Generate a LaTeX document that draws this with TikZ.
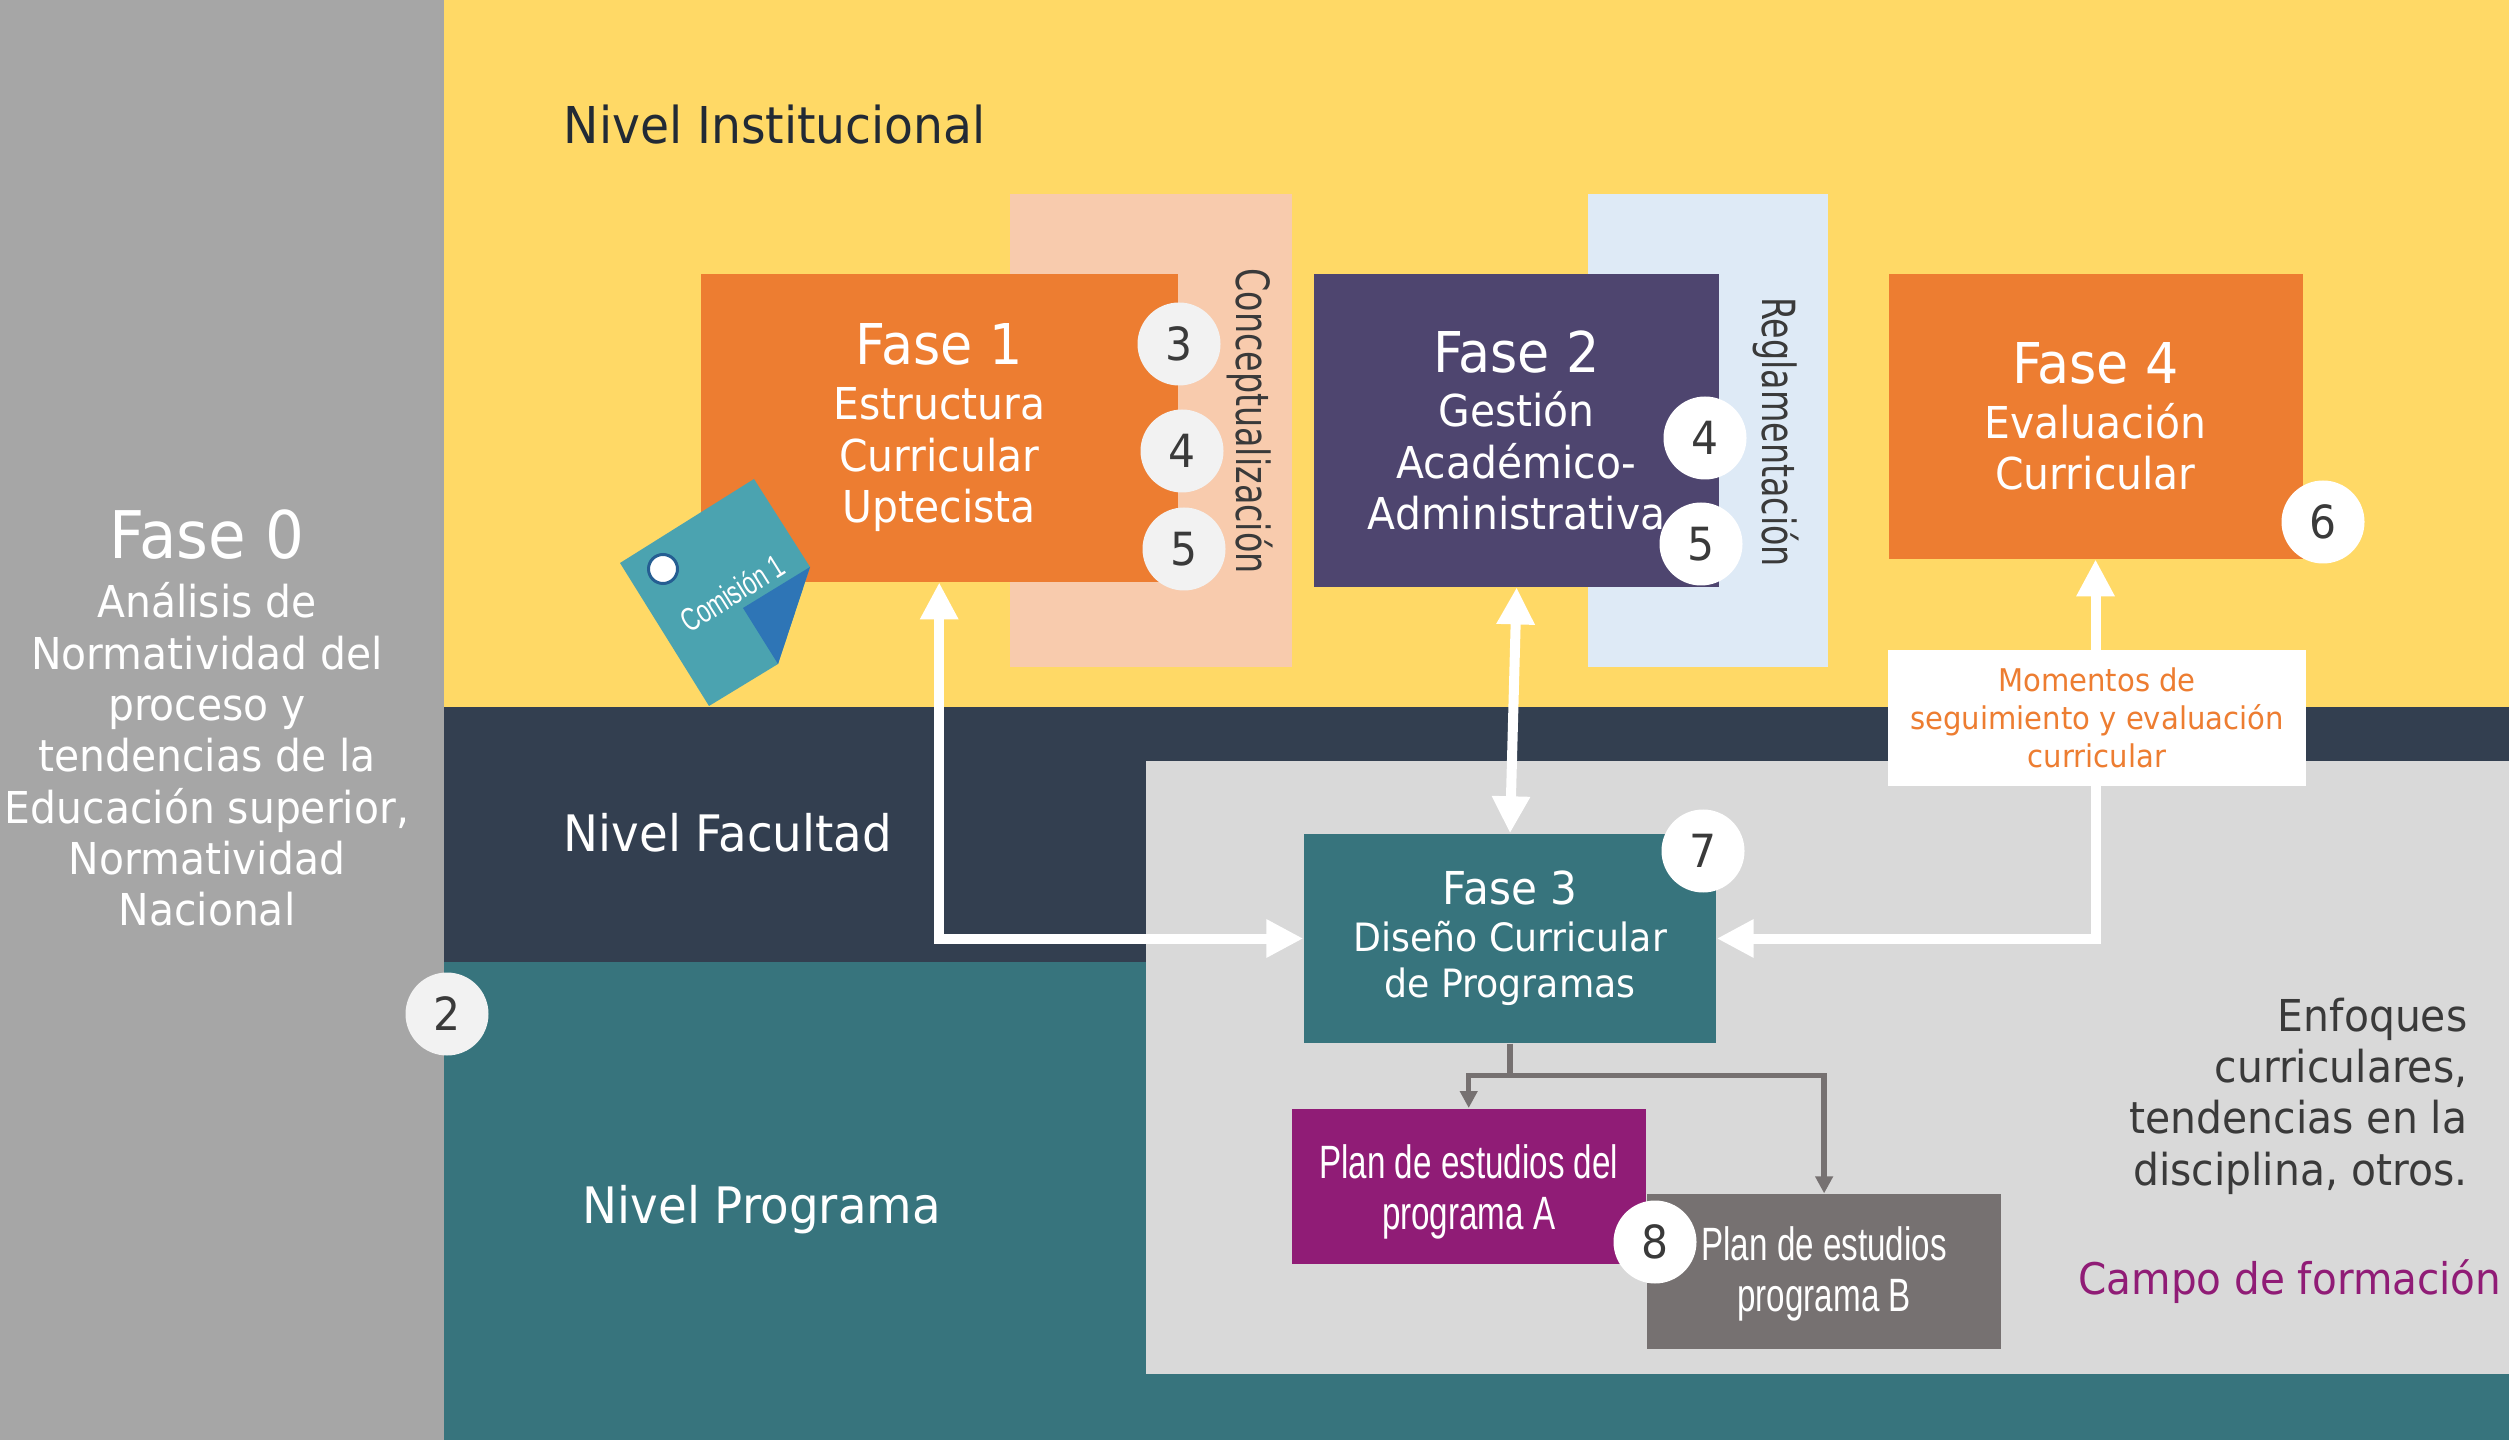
\documentclass[tikz,border=0pt]{standalone}
\usepackage{fontspec}
\setmainfont{DejaVu Sans}[FakeStretch=0.93]
\newfontfamily\slimfont{DejaVu Sans}[FakeStretch=0.73]
\newfontfamily\narrowfont{Liberation Sans}[FakeStretch=0.71]
\usetikzlibrary{arrows.meta,positioning}
\definecolor{amarillo}{HTML}{FFD966}
\definecolor{gris}{HTML}{A6A6A6}
\definecolor{marino}{HTML}{333F50}
\definecolor{oscuro}{HTML}{222A35}
\definecolor{petroleo}{HTML}{37747D}
\definecolor{panel}{HTML}{D9D9D9}
\definecolor{naranja}{HTML}{ED7D31}
\definecolor{durazno}{HTML}{F8CBAD}
\definecolor{celeste}{HTML}{DEEAF6}
\definecolor{violeta}{HTML}{4E456F}
\definecolor{morado}{HTML}{901C76}
\definecolor{plomo}{HTML}{767171}
\definecolor{tinta}{HTML}{3A3A3A}
\definecolor{nota}{HTML}{4BA3B0}
\definecolor{pliegue}{HTML}{2E75B6}
\tikzset{
    %Define style for boxes
    fase/.style={
           rectangle,
           inner sep=0pt,
           text=white,
           align=center,
           font=\fontsize{12.5}{14.6}\selectfont},
    plan/.style={
           rectangle,
           inner sep=0pt,
           minimum width=3.54cm,
           minimum height=1.55cm,
           text=white,
           align=center,
           font=\narrowfont\fontsize{13.3}{14.6}\selectfont},
    franja/.style={
           rectangle,
           inner sep=0pt,
           minimum height=4.73cm,
           anchor=north west},
    nivel/.style={
           anchor=west,
           inner sep=0pt,
           text=white,
           font=\fontsize{14.3}{17}\selectfont},
    vertical/.style={
           rotate=-90,
           inner sep=0pt,
           text=tinta,
           font=\slimfont\fontsize{13}{15}\selectfont},
    marca/.style={
           circle,
           inner sep=0pt,
           minimum size=0.83cm,
           fill=white,
           text=tinta,
           font=\fontsize{13}{15}\selectfont},
    marcagris/.style={
           marca,
           fill=black!5!white},
    % Define arrow style
    pil/.style={
           {Triangle[length=3.7mm,width=3.6mm]}-{Triangle[length=3.7mm,width=3.6mm]},
           white,
           line width=1mm},
    ramal/.style={
           -{Triangle[length=1.7mm,width=1.7mm]},
           plomo,
           line width=0.55mm}
}
\newcommand{\titulo}[1]{{\fontsize{16}{19}\selectfont #1}}
\begin{document}
\begin{tikzpicture}
 %backgrounds
\fill[amarillo] (4.44,7.33) rectangle (25.09,14.40);
\fill[marino] (4.44,4.78) rectangle (25.09,7.33);
\fill[petroleo] (4.44,0) rectangle (25.09,4.78);
\fill[gris] (0,0) rectangle (4.44,14.40);
\fill[panel] (11.46,0.66) rectangle (25.09,6.79);
\useasboundingbox (0,0) rectangle (25.09,14.40);
 %nodes
\node[franja, fill=durazno, minimum width=2.82cm] (concepto) at (10.09,12.47) {};
\node[franja, fill=celeste, minimum width=2.40cm] (regla) at (15.87,12.47) {};
\node[fase, fill=naranja, minimum width=4.77cm, minimum height=3.08cm, anchor=north west] (fase1) at (7.00,11.67)
    {\titulo{Fase 1}\\[1pt]Estructura\\Curricular\\Uptecista};
\node[fase, fill=violeta, minimum width=4.05cm, minimum height=3.13cm, right=1.35cm of fase1.north east, anchor=north west] (fase2)
    {\titulo{Fase 2}\\[1pt]Gestión\\Académico-\\Administrativa};
\node[fase, fill=naranja, minimum width=4.14cm, minimum height=2.85cm, right=1.68cm of fase2.north east, anchor=north west] (fase4)
    {\titulo{Fase 4}\\[1pt]Evaluación\\Curricular};
\node[fase, fill=petroleo, minimum width=4.12cm, minimum height=2.09cm, font=\fontsize{11.1}{13.2}\selectfont] (fase3) at (15.10,5.015)
    {{\fontsize{12.9}{15}\selectfont Fase 3}\\Diseño Curricular\\de Programas};
\node[plan, fill=morado, anchor=north west] (planA) at (12.91,3.32) {\rule{0pt}{13pt}Plan de estudios del\\programa A};
\node[plan, fill=plomo, below right=-0.71cm and 0cm of planA] (planB) {\rule{0pt}{11pt}Plan de estudios\\programa B};
\node[vertical] (conceptotxt) at (12.50,10.19) {Conceptualización};
\node[vertical] (reglatxt) at (17.76,10.08) {Reglamentación};
\node[nivel, text=oscuro, font=\fontsize{14.45}{17}\selectfont] (institucional) at (5.63,13.15) {Nivel Institucional};
\node[nivel] (facultad) at (5.63,6.07) {Nivel Facultad};
\node[nivel] (programa) at (5.82,2.30) {Nivel Programa};
\node[fase] (fase0) at (2.07,7.22)
    {{\fontsize{18.7}{22}\selectfont Fase 0}\\[2.3pt]Análisis de\\Normatividad del\\proceso y\\tendencias de la\\Educación superior,\\Normatividad\\Nacional};
\node[align=right, anchor=east, inner sep=0pt, text=tinta, font=\fontsize{12.5}{14.6}\selectfont] (enfoques) at (24.68,3.44)
    {Enfoques\\curriculares,\\tendencias en la\\disciplina, otros.};
\node[anchor=east, inner sep=0pt, text=morado, font=\fontsize{12.4}{14}\selectfont] (campo) at (25.02,1.58) {Campo de formación};
 %connectors
\draw[pil] (fase1.south) |- (fase3.west);
\draw[pil] (fase2.south) -- (fase3.north);
\draw[pil] (fase4.south) |- (fase3.east);
\draw[ramal] (fase3.south) -- ++(0,-0.32) coordinate (reparto) -| (planA.north);
\draw[ramal] (reparto) -| (planB.north);
\node[fill=white, inner sep=0pt, minimum width=4.18cm, minimum height=1.36cm, align=center, text=naranja,
    font=\fontsize{8.9}{10.9}\selectfont] (momentos) at (20.97,7.22)
    {Momentos de\\seguimiento y evaluación\\curricular};
 %sticky note
\fill[nota] (6.20,8.77) -- (7.54,9.61) -- (8.10,8.73) -- (7.78,7.76) -- (7.09,7.34) -- cycle;
\fill[pliegue] (8.10,8.73) -- (7.43,8.32) -- (7.78,7.76) -- cycle;
\node[circle, fill=white, draw=pliegue!80!black, line width=0.3mm, minimum size=0.29cm, inner sep=0pt] (ojal) at (6.63,8.71) {};
\node[rotate=32, inner sep=0pt, text=white, font=\narrowfont\fontsize{9.3}{11}\selectfont] (comision) at (7.32,8.47) {Comisión 1};
 %numbered marks
\node[marcagris] (m3) at (11.79,10.96) {3};
\node[marcagris] (m4) at (11.82,9.89) {4};
\node[marcagris] (m5) at (11.84,8.91) {5};
\node[marca] (n4) at (17.05,10.02) {4};
\node[marca] (n5) at (17.01,8.96) {5};
\node[marca] (m6) at (23.23,9.18) {6};
\node[marca] (m7) at (17.03,5.89) {7};
\node[marca] (m8) at (16.55,1.98) {8};
\node[marcagris] (m2) at (4.47,4.26) {2};
\end{tikzpicture}
\end{document}
